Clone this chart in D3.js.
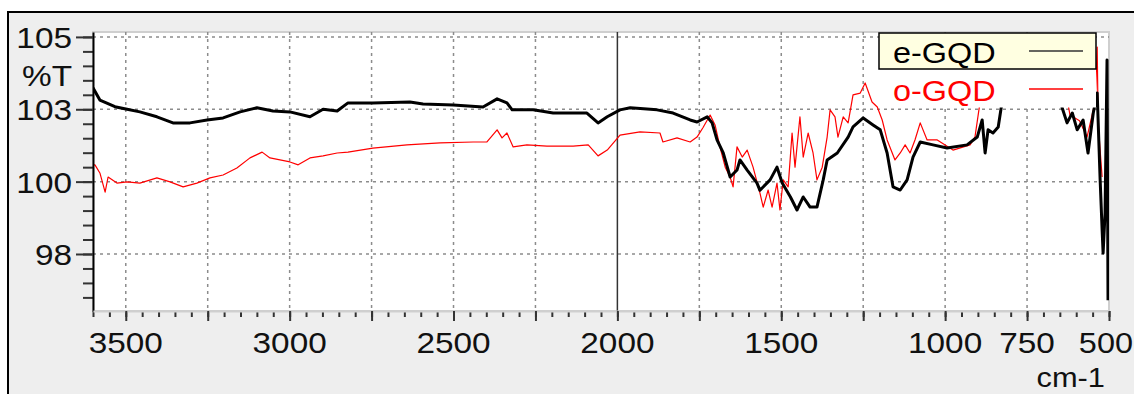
<!DOCTYPE html>
<html><head><meta charset="utf-8">
<script src="https://cdn.jsdelivr.net/npm/d3@7"></script>
<style>body{margin:0;background:#fff}svg{display:block}</style>
</head><body>
<svg id="c" width="1134" height="394"></svg>
<script>
const xTickValues = [3500, 3000, 2500, 2000, 1500, 1000, 750, 500];
const xTickLabels = ["3500", "3000", "2500", "2000", "1500", "1000", "750", "500"];
const yTickValues = [105, 102.5, 100, 97.5];
const yTickLabels = ["105", "103", "100", "98"];
const seriesNames = ["e-GQD", "o-GQD"];
const seriesColors = ["#000000", "#ff0000"];

const eWavenumber = [3600,3579,3533,3496,3457,3405,3356,3304,3252,3203,3151,3100,3051,2999,2938,2898,2855,2822,2746,2633,2593,2501,2410,2367,2337,2321,2257,2196,2135,2093,2059,2031,1992,1961,1879,1830,1778,1757,1726,1711,1696,1677,1656,1635,1626,1604,1574,1565,1534,1513,1497,1472,1452,1433,1412,1391,1372,1360,1329,1296,1281,1250,1220,1198,1177,1159,1137,1116,1098,1076,1037,994,933,902,887,878,869,854,838,829,815,700,650,643,628,612,597,579,564,548,536,527,521,518,512,506,503];
const eTransmittance = [103.24,102.82,102.59,102.50,102.41,102.24,102.03,102.03,102.13,102.20,102.41,102.55,102.44,102.41,102.24,102.50,102.44,102.72,102.72,102.75,102.68,102.65,102.58,102.86,102.72,102.48,102.48,102.37,102.37,102.37,102.03,102.24,102.48,102.55,102.48,102.37,102.13,102.06,102.24,102.03,101.44,100.99,100.16,100.40,100.75,100.40,99.95,99.70,100.06,100.50,99.95,99.47,99.02,99.47,99.12,99.12,100.06,100.75,100.99,101.54,101.89,102.20,101.96,101.79,100.99,99.82,99.71,100.06,100.85,101.37,101.27,101.16,101.27,101.54,102.13,100.99,101.79,101.68,101.89,102.55,103.40,103.80,103.20,102.55,102.03,102.37,101.79,102.13,100.99,102.37,103.06,100.06,98.33,97.53,98.92,104.20,95.90];

const oWavenumber = [3600,3594,3579,3563,3554,3527,3496,3457,3405,3365,3325,3283,3243,3203,3161,3121,3084,3060,2999,2974,2938,2898,2855,2822,2746,2642,2541,2440,2398,2367,2352,2337,2318,2276,2215,2135,2089,2059,2031,1992,1931,1870,1861,1818,1778,1757,1739,1717,1702,1687,1671,1656,1647,1635,1619,1604,1586,1565,1555,1540,1528,1513,1504,1494,1479,1467,1458,1443,1433,1418,1403,1391,1375,1360,1351,1336,1327,1311,1296,1281,1259,1244,1223,1207,1192,1177,1153,1137,1122,1107,1092,1076,1055,1024,976,924,909,896,880,700,630,619,590,567,548,542,536,533,521];
const oTransmittance = [100.58,100.58,100.30,99.64,100.16,99.95,99.99,99.95,100.13,99.99,99.82,99.95,100.13,100.23,100.47,100.82,101.02,100.82,100.68,100.58,100.82,100.89,100.99,101.02,101.16,101.27,101.34,101.37,101.37,101.79,101.51,101.68,101.20,101.27,101.23,101.23,101.27,100.89,101.09,101.61,101.72,101.68,101.37,101.51,101.37,101.54,101.86,102.30,101.96,101.20,100.50,100.16,99.82,101.20,100.85,101.09,100.50,99.60,99.12,99.71,99.12,99.95,99.02,100.06,99.82,101.68,100.50,102.24,100.85,101.68,100.99,100.06,100.50,101.54,102.48,102.24,101.54,102.24,102.03,103.00,103.06,103.41,102.75,102.58,102.13,101.44,100.75,100.99,101.27,100.99,101.44,102.03,101.44,101.44,101.09,101.27,101.54,102.55,103.50,104.00,103.00,102.30,102.10,101.54,102.48,102.80,104.65,102.00,100.16];

const svg = d3.select("#c");
const L = 93, R = 1109, T = 32, B = 311;
const x = d3.scaleLinear().domain([3600, 500]).range([L, R]);
const y = d3.scaleLinear().domain([95.53, 105.17]).range([B, T]);
const FONT = "'Liberation Sans', Arial, sans-serif";

// outer frame
svg.append("rect").attr("x", 8).attr("y", 12).attr("width", 1140).attr("height", 400)
  .attr("fill", "#eeeeee").attr("stroke", "#000").attr("stroke-width", 2);

// plot area
svg.append("rect").attr("x", L).attr("y", T).attr("width", R - L).attr("height", B - T)
  .attr("fill", "#fff").attr("stroke", "#cfcfcf").attr("stroke-width", 2);

// grid
const gridX = d3.range(3500, 600, -250);
const grid = svg.append("g");
grid.selectAll("line.gx").data(gridX.filter(d => d !== 2000)).join("line")
  .attr("x1", d => x(d)).attr("x2", d => x(d)).attr("y1", T).attr("y2", B)
  .attr("stroke", "#8c8c8c").attr("stroke-width", 1.5).attr("stroke-dasharray", "3,4");
grid.selectAll("line.gy").data(yTickValues).join("line")
  .attr("x1", L).attr("x2", R).attr("y1", d => y(d)).attr("y2", d => y(d))
  .attr("stroke", "#8c8c8c").attr("stroke-width", 1.5).attr("stroke-dasharray", "3,4");
// solid marker at 2000
svg.append("line").attr("x1", x(2000)).attr("x2", x(2000)).attr("y1", T).attr("y2", B)
  .attr("stroke", "#333").attr("stroke-width", 1.5);

// clip
svg.append("clipPath").attr("id", "clip").append("rect")
  .attr("x", L).attr("y", T).attr("width", R - L).attr("height", B - T);

const line = d3.line().x(d => x(d[0])).y(d => y(d[1]));
const eData = eWavenumber.map((w, i) => [w, eTransmittance[i]]);
const oData = oWavenumber.map((w, i) => [w, oTransmittance[i]]);
const curves = svg.append("g").attr("clip-path", "url(#clip)");
curves.append("path").datum(oData).attr("d", line).attr("fill", "none")
  .attr("stroke", seriesColors[1]).attr("stroke-width", 1.2).attr("stroke-linejoin", "round");
curves.append("path").datum(eData).attr("d", line).attr("fill", "none")
  .attr("stroke", seriesColors[0]).attr("stroke-width", 3).attr("stroke-linejoin", "round");

// Y axis
const yMinor = d3.range(96, 105.01, 0.5);
const yMinorAxis = svg.append("g").attr("transform", `translate(${L},0)`)
  .call(d3.axisLeft(y).tickValues(yMinor).tickSize(10).tickSizeOuter(0).tickFormat(""));
yMinorAxis.select(".domain").remove();
const yAxis = svg.append("g").attr("transform", `translate(${L},0)`)
  .call(d3.axisLeft(y).tickValues(yTickValues).tickSize(17).tickSizeOuter(0)
    .tickFormat((d, i) => yTickLabels[i]));
yAxis.select(".domain").attr("stroke", "#000").attr("stroke-width", 2);
svg.selectAll("g.tick line").attr("stroke", "#333").attr("stroke-width", 2);
yAxis.selectAll("text").attr("x", 0).attr("dy", "0.36em")
  .attr("transform", "translate(-21,0) scale(1.15,1)")
  .attr("font-family", FONT).attr("font-size", 29).attr("fill", "#111");

svg.append("text").attr("transform", "translate(72,86) scale(1.15,1)")
  .attr("text-anchor", "end").attr("font-family", FONT).attr("font-size", 29)
  .attr("fill", "#111").text("%T");

// X axis
const xMinor = d3.range(3600, 499, -50);
const xMinorAxis = svg.append("g").attr("transform", `translate(0,${B})`)
  .call(d3.axisBottom(x).tickValues(xMinor).tickSize(6).tickSizeOuter(0).tickFormat(""));
xMinorAxis.select(".domain").remove();
const xMajor = d3.range(3500, 499, -250);
const xAxis = svg.append("g").attr("transform", `translate(0,${B})`)
  .call(d3.axisBottom(x).tickValues(xMajor).tickSize(10).tickSizeOuter(0).tickFormat(""));
xAxis.select(".domain").attr("stroke", "#cfcfcf").attr("stroke-width", 2);
svg.selectAll("g.tick line").attr("stroke", "#333").attr("stroke-width", 2);
const lastIdx = xTickValues.length - 1;
svg.append("g").selectAll("text").data(xTickValues).join("text")
  .attr("transform", (d, i) => i === lastIdx
    ? `translate(1133,353) scale(1.12,1)`
    : `translate(${x(d)},353) scale(1.15,1)`)
  .attr("text-anchor", (d, i) => i === lastIdx ? "end" : "middle")
  .attr("font-family", FONT).attr("font-size", 29)
  .attr("fill", "#111").text((d, i) => xTickLabels[i]);

svg.append("text").attr("transform", "translate(1105,387) scale(1.1,1)")
  .attr("text-anchor", "end").attr("font-family", FONT).attr("font-size", 28)
  .attr("fill", "#111").text("cm-1");

// Legend
const lg = svg.append("g");
lg.append("rect").attr("x", 879).attr("y", 69).attr("width", 217).attr("height", 38.5)
  .attr("fill", "#fff");
lg.append("rect").attr("x", 879).attr("y", 33).attr("width", 217).attr("height", 36)
  .attr("fill", "#ffffe1").attr("stroke", "#000").attr("stroke-width", 1.5);
seriesNames.forEach((name, i) => {
  const cy = 51 + i * 38;
  lg.append("text").attr("transform", `translate(893,${cy + 12}) scale(1.08,1)`)
    .attr("font-family", FONT).attr("font-size", 30).attr("fill", seriesColors[i]).text(name);
  lg.append("line").attr("x1", 1029).attr("x2", 1083).attr("y1", cy).attr("y2", cy)
    .attr("stroke", i === 0 ? "#333" : seriesColors[i]).attr("stroke-width", 1.5);
});
</script>
</body></html>
